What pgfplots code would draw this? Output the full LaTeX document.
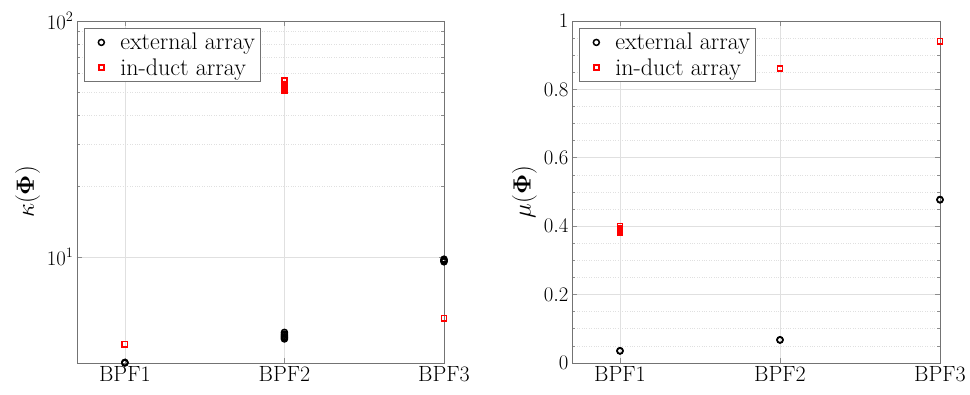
\documentclass[border=0pt]{standalone}
\usepackage{pgfplots}
\pgfplotsset{compat=1.18}
\usepackage{amsmath}
\begin{document}
\begin{tikzpicture}
\useasboundingbox (-77pt,-32pt) rectangle (893pt,363pt);
\pgfplotsset{
  bpfpanel/.style={
    scale only axis, height=342pt,
    xmin=0.7, xmax=3, xtick={1,2,3}, xticklabels={BPF1,BPF2,BPF3},
    tick align=inside, clip=false,
    axis line style={draw=black!55, line width=0.7pt},
    every tick/.style={draw=black!45, line width=0.6pt},
    major tick length=5pt, minor tick length=3pt,
    grid=both, xminorgrids=false,
    major grid style={draw=black!12, line width=0.6pt},
    minor grid style={draw=black!12, dotted, line width=0.6pt},
    tick label style={font=\fontsize{22}{26}\selectfont},
    ylabel style={font=\fontsize{23}{27}\selectfont},
    legend cell align=left,
    legend style={at={(0,1)}, anchor=north west, xshift=7pt, yshift=-7pt,
      draw=black!55, fill=white, line width=0.7pt,
      font=\fontsize{24}{27}\selectfont, inner sep=3pt,
      row sep=3pt},
    legend image code/.code={
      \path[draw=none, fill=none] (1pt,-4pt) (32pt,4pt);
      \draw[##1] plot coordinates {(15pt,0pt)};
    },
  },
  extmark/.style={only marks, mark=o, mark size=3pt, black, line width=1.5pt},
  ductmark/.style={only marks, mark=square, mark size=2.6pt, red, line width=1.6pt},
}
\begin{axis}[bpfpanel, width=367pt,
  ymode=log, ymin=3.56, ymax=100, ytick={10,100},
  ylabel={$\kappa(\mathbf{\Phi})$}]
\addplot[extmark] coordinates {
  (1,3.56) (1,3.57) (1,3.58)
  (2,4.80) (2,4.72) (2,4.66) (2,4.60) (2,4.55) (2,4.50)
  (3,9.80) (3,9.70) (3,9.62) (3,9.55)
};
\addlegendentry{external array}
\addplot[ductmark] coordinates {
  (1,4.28)
  (2,56.0) (2,54.0) (2,52.2) (2,51.5) (2,51.0) (2,50.5)
  (3,5.51)
};
\addlegendentry{in-duct array}
\end{axis}
\begin{axis}[bpfpanel, width=368pt, at={(495pt,0pt)},
  ymin=0, ymax=1, ytick={0,0.2,0.4,0.6,0.8,1}, minor y tick num=3,
  ylabel={$\mu(\mathbf{\Phi})$}]
\addplot[extmark] coordinates {
  (1,0.035) (1,0.036)
  (2,0.067) (2,0.068)
  (3,0.477) (3,0.478)
};
\addlegendentry{external array}
\addplot[ductmark] coordinates {
  (1,0.400) (1,0.395) (1,0.390) (1,0.386) (1,0.382) (1,0.380)
  (2,0.862) (2,0.860)
  (3,0.941)
};
\addlegendentry{in-duct array}
\end{axis}
\end{tikzpicture}
\end{document}
